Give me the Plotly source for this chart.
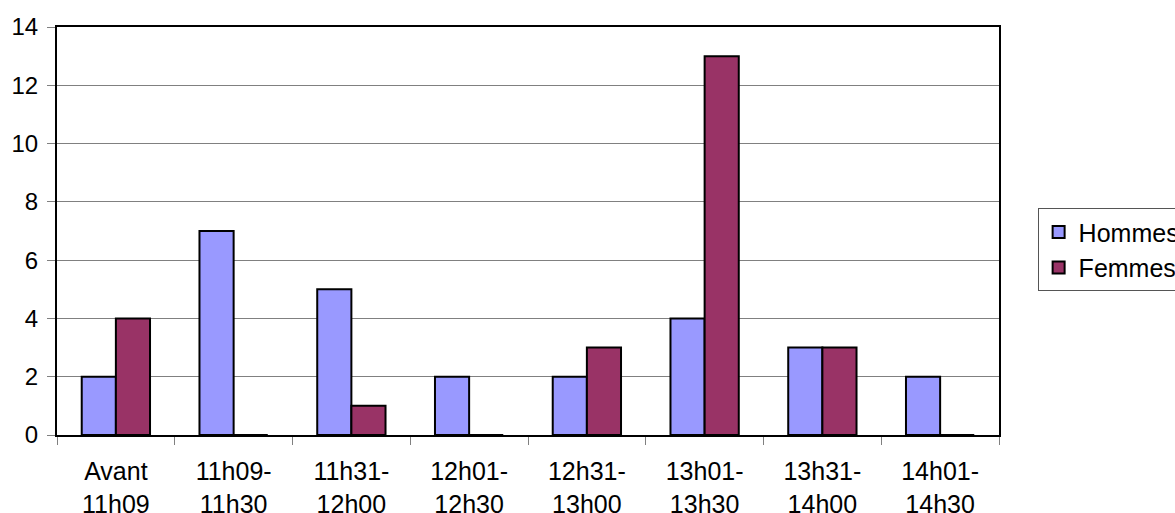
import plotly.graph_objects as go

# Tranches horaires et effectifs par sexe
categories = ["Avant<br>11h09", "11h09-<br>11h30", "11h31-<br>12h00", "12h01-<br>12h30",
              "12h31-<br>13h00", "13h01-<br>13h30", "13h31-<br>14h00", "14h01-<br>14h30"]
hommes = [2, 7, 5, 2, 2, 4, 3, 2]
femmes = [4, 0, 1, 0, 3, 13, 3, 0]
y_ticks = [0, 2, 4, 6, 8, 10, 12, 14]

FONT = "Arial, Liberation Sans, sans-serif"

fig = go.Figure()
fig.add_trace(go.Bar(name="Hommes", x=categories, y=hommes,
                     marker=dict(color="#9999FF", line=dict(color="#000000", width=2))))
fig.add_trace(go.Bar(name="Femmes", x=categories, y=femmes,
                     marker=dict(color="#993366", line=dict(color="#000000", width=2))))

fig.update_layout(
    width=1175, height=513,
    margin=dict(l=57, r=176, t=27, b=78, autoexpand=False),
    paper_bgcolor="white", plot_bgcolor="white",
    barmode="group", bargap=0.42, bargroupgap=0,
    font=dict(family=FONT, size=24, color="black"),
    legend=dict(x=1.041, xanchor="left", y=0.454, yanchor="middle",
                bordercolor="#555555", borderwidth=1, bgcolor="white",
                font=dict(size=25), traceorder="normal"),
    showlegend=True,
)
fig.update_xaxes(
    type="category", tickson="boundaries", ticks="outside", ticklen=8,
    tickcolor="#808080", tickwidth=1, ticklabelstandoff=13,
    showline=True, linecolor="black", linewidth=2, mirror=True,
    showgrid=False, tickfont=dict(size=25),
)
fig.update_yaxes(
    range=[0, 14], tickvals=y_ticks, ticks="outside", ticklen=8,
    tickcolor="#808080", tickwidth=1, ticklabelstandoff=4,
    showline=True, linecolor="black", linewidth=2, mirror=True,
    showgrid=True, gridcolor="#808080", gridwidth=1, zeroline=False,
    tickfont=dict(size=24),
)

fig.write_html("out.html")
